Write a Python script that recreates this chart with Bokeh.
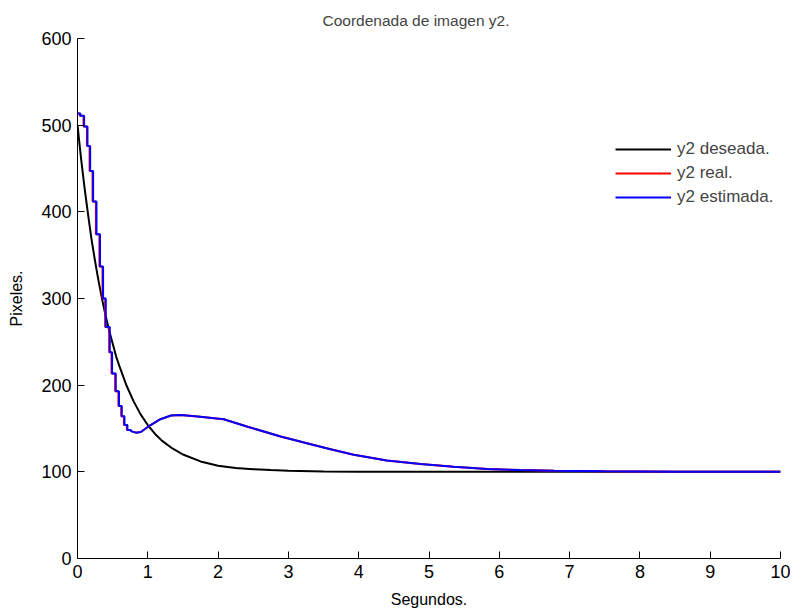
from bokeh.plotting import figure
from bokeh.models import Range1d, Legend, LegendItem, FixedTicker
from bokeh.embed import file_html
from bokeh.resources import INLINE

# ---- data ----
# desired trajectory (black)
t_des = [0.0, 0.05, 0.1, 0.15, 0.2, 0.25, 0.3, 0.35, 0.4, 0.45, 0.5, 0.55, 0.6, 0.7,
         0.8, 0.9, 1.0, 1.1, 1.2, 1.35, 1.5, 1.75, 2.0, 2.25, 2.5, 2.75, 3.0, 3.5,
         4.0, 5.0, 6.0, 7.0, 8.0, 9.0, 10.0]
y_des = [500, 462, 428, 397, 368, 343, 320, 299, 280, 263, 248, 233, 221, 199,
         181, 166, 154, 144, 136, 127, 120, 112, 107, 104.5, 103, 102, 101.2, 100.5,
         100.2, 100, 100, 100, 100, 100, 100]

# sampled (step) part of the measured / estimated signal
t_step = [0.0, 0.04, 0.094, 0.142, 0.18, 0.222, 0.27, 0.32, 0.364, 0.402, 0.459,
          0.492, 0.544, 0.59, 0.63, 0.668, 0.71]
y_step = [513.5, 511, 498.5, 476, 447, 412, 374, 337, 300, 267, 238,
          213.6, 193, 176, 164, 154, 148.4]
# smooth part afterwards
t_smooth = [0.76, 0.83, 0.9, 1.04, 1.18, 1.33, 1.47, 1.71, 2.08, 2.42, 2.89, 3.36,
            3.6, 3.93, 4.4, 4.88, 5.35, 5.83, 6.3, 6.78, 7.5, 8.5, 10.0]
y_smooth = [147, 145.2, 146, 154, 160.7, 165, 165.7, 163.8, 160.7, 152, 140.7, 131,
            126, 119.7, 113, 109, 106, 103.2, 102, 101.3, 100.6, 100.2, 100]
# small lead of the real signal relative to the estimate
red_lead = 0.008

x_ticks = [0, 1, 2, 3, 4, 5, 6, 7, 8, 9, 10]
y_ticks = [0, 100, 200, 300, 400, 500, 600]

FONT = "Liberation Sans"


def step_path(ts, ys, t_next, shift=0.0):
    xs, vs = [], []
    for i in range(len(ts)):
        t0 = ts[i] - shift if i > 0 else ts[i]
        t1 = (ts[i + 1] if i + 1 < len(ts) else t_next) - shift
        xs += [t0, t1]
        vs += [ys[i], ys[i]]
    return xs, vs


bx, by = step_path(t_step, y_step, t_smooth[0])
bx += t_smooth
by += y_smooth
rx, ry = step_path(t_step, y_step, t_smooth[0], red_lead)
rx += t_smooth
ry += y_smooth

p = figure(width=790, height=610, output_backend="svg", toolbar_location=None,
           x_range=Range1d(0, 10), y_range=Range1d(0, 600),
           min_border_left=77, min_border_right=10, min_border_top=38, min_border_bottom=51)
p.title.text = "Coordenada de imagen y2."
p.title.align = "left"
p.title.offset = 245
p.title.standoff = 19
p.title.text_font = FONT
p.title.text_font_size = "15.5px"
p.title.text_font_style = "normal"
p.outline_line_color = None
p.xgrid.grid_line_color = None
p.ygrid.grid_line_color = None

for ax in (p.xaxis[0], p.yaxis[0]):
    ax.major_tick_in = 7
    ax.major_tick_out = 0
    ax.minor_tick_line_color = None
    ax.axis_line_color = "black"
    ax.major_tick_line_color = "black"
    ax.major_label_text_font = FONT
    ax.major_label_text_font_size = "18px"
    ax.major_label_text_color = "black"
    ax.axis_label_text_font = FONT
    ax.axis_label_text_font_size = "16px"
    ax.axis_label_text_font_style = "normal"
    ax.axis_label_text_color = "black"

p.xaxis.ticker = FixedTicker(ticks=x_ticks)
p.yaxis.ticker = FixedTicker(ticks=y_ticks)
p.xaxis.axis_label = "Segundos."
p.yaxis.axis_label = "Pixeles."
p.xaxis.major_label_standoff = 6
p.yaxis.major_label_standoff = 6
p.xaxis.axis_label_standoff = 10
p.yaxis.axis_label_standoff = 13

r_des = p.line(t_des, y_des, line_color="black", line_width=2)
r_real = p.line(rx, ry, line_color="#ff0000", line_width=2)
r_est = p.line(bx, by, line_color="#0000ff", line_width=2)

legend = Legend(items=[LegendItem(label="y2 deseada.", renderers=[r_des]),
                       LegendItem(label="y2 real.", renderers=[r_real]),
                       LegendItem(label="y2 estimada.", renderers=[r_est])],
                location=(538, 351))
legend.border_line_color = None
legend.background_fill_alpha = 0
legend.padding = 0
legend.margin = 0
legend.spacing = 4
legend.glyph_width = 56
legend.glyph_height = 20
legend.label_height = 20
legend.label_standoff = 6
legend.label_text_font = FONT
legend.label_text_font_size = "17px"
p.add_layout(legend, "center")

open("out.html", "w").write(file_html(p, INLINE))
